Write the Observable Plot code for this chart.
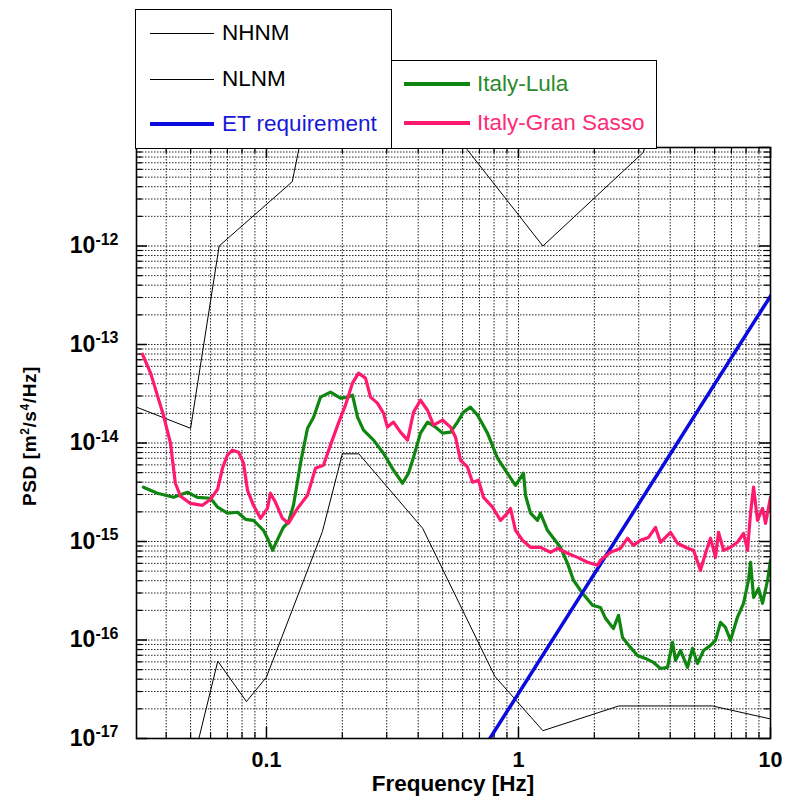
<!DOCTYPE html>
<html>
<head>
<meta charset="utf-8">
<script src="https://cdn.jsdelivr.net/npm/d3@7"></script>
<script src="https://cdn.jsdelivr.net/npm/@observablehq/plot@0.6"></script>
<style>
  html, body { margin: 0; padding: 0; background: #fff; }
  #wrap { position: relative; width: 785px; height: 804px; overflow: hidden; font-family: "Liberation Sans", Arial, Helvetica, sans-serif; }
  #wrap svg { position: absolute; left: 0; top: 0; }
  #wrap svg text { font-family: "Liberation Sans", Arial, Helvetica, sans-serif; font-weight: bold; font-size: 22px; fill: #000; }
  .box { position: absolute; border: 1.5px solid #000; background: #fff; box-sizing: border-box; }
  .ln { position: absolute; }
  .lt { position: absolute; font-size: 22.5px; line-height: 22px; white-space: nowrap; }
  #ylab { position: absolute; left: 30px; top: 436px; transform: translate(-50%, -50%) rotate(-90deg); white-space: nowrap; font-weight: bold; font-size: 19px; letter-spacing: 0.6px; }
  #ylab sup { font-size: 12px; line-height: 0; vertical-align: 0.6em; }
  #xlab { position: absolute; left: 453px; top: 784px; transform: translate(-50%, -50%); white-space: nowrap; font-weight: bold; font-size: 22.5px; line-height: 22px; }
</style>
</head>
<body>
<div id="wrap"></div>
<script>
// ---------- data ----------
const lulaFreq = [0.0325,0.0369,0.0428,0.0486,0.0532,0.0600,0.0640,0.0700,0.0767,0.0826,0.0888,0.0973,0.1018,0.1057,0.1117,0.1167,0.1222,0.1280,0.1365,0.1455,0.1538,0.1638,0.1795,0.1966,0.2096,0.2195,0.2298,0.2427,0.2660,0.2912,0.3191,0.3467,0.3660,0.3833,0.4085,0.4355,0.4688,0.4995,0.5374,0.5728,0.6051,0.6452,0.6875,0.7534,0.8255,0.9040,0.9730,1.047,1.066,1.116,1.190,1.222,1.303,1.377,1.468,1.565,1.653,1.795,1.967,2.115,2.214,2.381,2.494,2.587,2.782,2.965,3.191,3.434,3.660,3.902,4.085,4.199,4.395,4.686,4.902,5.130,5.422,5.780,6.050,6.333,6.630,6.941,7.390,7.815,8.181,8.333,8.567,8.965,9.299,9.735,10.0];
const lulaPsd = [3.56e-15,3.09e-15,2.81e-15,3.16e-15,2.81e-15,2.75e-15,2.23e-15,1.94e-15,1.98e-15,1.68e-15,1.64e-15,1.30e-15,1.03e-15,8.15e-16,1.10e-15,1.39e-15,1.57e-15,2.33e-15,6.24e-15,1.41e-14,1.83e-14,2.92e-14,3.28e-14,2.85e-14,2.92e-14,3.06e-14,1.83e-14,1.35e-14,1.07e-14,7.87e-15,5.30e-15,3.90e-15,4.93e-15,7.18e-15,1.26e-14,1.63e-14,1.45e-14,1.26e-14,1.29e-14,1.63e-14,2.06e-14,2.31e-14,1.92e-14,1.26e-14,7.02e-15,4.93e-15,3.72e-15,4.93e-15,2.95e-15,1.94e-15,1.64e-15,1.94e-15,1.30e-15,1.08e-15,8.73e-16,6.00e-16,4.04e-16,2.98e-16,2.25e-16,2.14e-16,1.66e-16,1.31e-16,1.78e-16,1.06e-16,8.41e-17,6.97e-17,6.50e-17,5.92e-17,5.14e-17,5.27e-17,9.47e-17,6.21e-17,7.83e-17,5.27e-17,8.22e-17,5.78e-17,7.83e-17,8.81e-17,9.91e-17,1.51e-16,1.34e-16,9.91e-17,1.70e-16,2.36e-16,4.04e-16,6.15e-16,2.71e-16,3.34e-16,2.36e-16,4.04e-16,6.44e-16];

const gsFreq = [0.0322,0.0347,0.0390,0.0416,0.0435,0.0456,0.0499,0.0557,0.0600,0.0640,0.0669,0.0700,0.0733,0.0775,0.0811,0.0841,0.0888,0.0947,0.1009,0.1037,0.1086,0.1157,0.1222,0.1328,0.1455,0.1565,0.1683,0.1795,0.1930,0.2058,0.2195,0.2318,0.2472,0.2588,0.2756,0.2912,0.3020,0.3191,0.3403,0.3630,0.3833,0.4085,0.4355,0.4602,0.4995,0.5374,0.5623,0.5888,0.6279,0.6568,0.6935,0.7265,0.7889,0.8487,0.9040,0.9296,0.9730,1.037,1.116,1.222,1.340,1.428,1.565,1.714,1.879,2.057,2.115,2.317,2.541,2.709,2.859,3.049,3.280,3.497,3.660,4.010,4.275,4.686,4.947,5.275,5.522,5.780,6.050,6.218,6.510,6.941,7.390,7.815,8.107,8.333,8.567,8.880,9.299,9.560,10.0];
const gsPsd = [7.98e-14,5.12e-14,1.92e-14,9.95e-15,3.90e-15,2.88e-15,2.44e-15,2.33e-15,2.69e-15,3.39e-15,5.55e-15,7.52e-15,8.45e-15,8.07e-15,6.24e-15,3.31e-15,2.33e-15,1.72e-15,2.17e-15,3.09e-15,2.50e-15,1.72e-15,1.53e-15,2.17e-15,2.95e-15,5.55e-15,5.94e-15,9.51e-15,1.59e-14,2.42e-14,4.06e-14,5.12e-14,4.56e-14,2.92e-14,2.54e-14,2.01e-14,1.45e-14,1.63e-14,1.29e-14,1.07e-14,2.06e-14,2.72e-14,2.15e-14,1.52e-14,1.71e-14,1.45e-14,1.15e-14,6.68e-15,5.68e-15,4.00e-15,4.19e-15,2.81e-15,2.23e-15,1.64e-15,1.94e-15,2.17e-15,1.30e-15,1.03e-15,8.73e-16,8.73e-16,7.77e-16,8.53e-16,7.59e-16,6.90e-16,6.15e-16,5.73e-16,6.44e-16,7.77e-16,8.53e-16,1.08e-15,9.14e-16,1.03e-15,1.10e-15,1.39e-15,9.82e-16,1.24e-15,9.60e-16,8.53e-16,8.15e-16,5.09e-16,7.59e-16,1.08e-15,6.90e-16,1.24e-15,8.15e-16,8.73e-16,9.82e-16,1.21e-15,8.15e-16,1.94e-15,3.56e-15,1.64e-15,2.17e-15,1.53e-15,2.81e-15];

const nhnmFreq = [0.0282,0.05,0.0649,0.1266,0.1587,0.2174,0.2632,1.25,3.125,4.545,10];
const nhnmPsd  = [2.5e-14,1.41e-14,1.0e-12,4.5e-12,7.9e-11,2.2e-10,1.6e-10,1.0e-12,8.9e-12,1.8e-10,7e-10];

const nlnmFreq = [0.0316,0.0457,0.0641,0.0833,0.1,0.1667,0.2,0.2326,0.4167,0.806,1.25,2.5,5.88,10];
const nlnmPsd  = [3.2e-19,1.78e-18,6.1e-17,2.37e-17,4.2e-17,1.26e-15,7.76e-15,7.76e-15,1.36e-15,4.27e-17,1.2e-17,2.14e-17,2.14e-17,1.58e-17];

const etFreq = [0.77, 10];
const etPsd  = [1.0e-17, 3.1e-13];

// axis ticks
const xTickLabels = [0.1, 1, 10];
const xMinorTicks = [0.04,0.05,0.06,0.07,0.08,0.09,0.2,0.3,0.4,0.5,0.6,0.7,0.8,0.9,2,3,4,5,6,7,8,9];
const yTickLabels = [1e-17, 1e-16, 1e-15, 1e-14, 1e-13, 1e-12];
const yMajorTicks = [1e-17, 1e-16, 1e-15, 1e-14, 1e-13, 1e-12, 1e-11];
const yDecades = [1e-17, 1e-16, 1e-15, 1e-14, 1e-13, 1e-12];
const mantissas = [2, 3, 4, 5, 6, 7, 8, 9];
const yMinorTicks = yDecades.flatMap(d => mantissas.map(m => m * d));

// legend entries
const legendLeft = [
  {label: "NHNM", color: "#000", text: "#000", width: 1, y: 33},
  {label: "NLNM", color: "#000", text: "#000", width: 1, y: 79},
  {label: "ET requirement", color: "#0b0be0", text: "#1818d8", width: 3.5, y: 124}
];
const legendRight = [
  {label: "Italy-Lula", color: "#0f860f", text: "#2a8a2a", width: 3.5, y: 84},
  {label: "Italy-Gran Sasso", color: "#ff1a70", text: "#ff2a78", width: 3.5, y: 123}
];

// ---------- layout ----------
const W = 785, H = 804;
const mL = 136, mR = 15, mT = 147, mB = 66;
const FW = W - mL - mR, FH = H - mT - mB;
const gridStyle = {stroke: "#000", strokeWidth: 1, strokeDasharray: "1.5,1.5", strokeOpacity: 0.85};

const chart = Plot.plot({
  width: W, height: H,
  marginLeft: mL, marginRight: mR, marginTop: mT, marginBottom: mB,
  style: {background: "transparent"},
  x: {type: "log", domain: [0.0305, 10], ticks: xTickLabels, tickFormat: d => String(d), tickSize: 0, tickPadding: 13, label: null},
  y: {type: "log", domain: [1e-17, 1e-11], ticks: yTickLabels, tickFormat: d => "10^" + Math.round(Math.log10(d)), tickSize: 0, tickPadding: 18, label: null},
  marks: [
    // dotted grid
    Plot.ruleX(xMinorTicks.concat(xTickLabels), {x: d => d, ...gridStyle}),
    Plot.ruleY(yMinorTicks.concat(yMajorTicks), {y: d => d, ...gridStyle}),
    // inward tick marks on all four sides
    Plot.ruleY(yMajorTicks, {y: d => d, insetRight: FW - 11, stroke: "#000", strokeWidth: 1.5}),
    Plot.ruleY(yMajorTicks, {y: d => d, insetLeft: FW - 11, stroke: "#000", strokeWidth: 1.5}),
    Plot.ruleY(yMinorTicks, {y: d => d, insetRight: FW - 6, stroke: "#000", strokeWidth: 1.2}),
    Plot.ruleY(yMinorTicks, {y: d => d, insetLeft: FW - 6, stroke: "#000", strokeWidth: 1.2}),
    Plot.ruleX(xTickLabels, {x: d => d, insetTop: FH - 11, stroke: "#000", strokeWidth: 1.5}),
    Plot.ruleX(xTickLabels, {x: d => d, insetBottom: FH - 11, stroke: "#000", strokeWidth: 1.5}),
    Plot.ruleX(xMinorTicks, {x: d => d, insetTop: FH - 6, stroke: "#000", strokeWidth: 1.2}),
    Plot.ruleX(xMinorTicks, {x: d => d, insetBottom: FH - 6, stroke: "#000", strokeWidth: 1.2}),
    // curves
    Plot.line(nhnmFreq, {x: nhnmFreq, y: nhnmPsd, stroke: "#000", strokeWidth: 1, clip: true}),
    Plot.line(nlnmFreq, {x: nlnmFreq, y: nlnmPsd, stroke: "#000", strokeWidth: 1, clip: true}),
    Plot.line(lulaFreq, {x: lulaFreq, y: lulaPsd, stroke: "#0f860f", strokeWidth: 3.2, clip: true}),
    Plot.line(etFreq, {x: etFreq, y: etPsd, stroke: "#0b0be0", strokeWidth: 3.5, clip: true}),
    Plot.line(gsFreq, {x: gsFreq, y: gsPsd, stroke: "#ff1a70", strokeWidth: 3.2, clip: true}),
    Plot.frame({stroke: "#000", strokeWidth: 1.6})
  ]
});

const wrap = document.getElementById("wrap");
wrap.appendChild(chart);

// tick label sizes: x labels slightly smaller, y labels with superscript exponents
d3.select(chart).selectAll("text").each(function () {
  const txt = this.textContent;
  const m = /^10\^(-?\d+)$/.exec(txt);
  if (m) {
    const t = d3.select(this);
    t.style("font-size", "23px");
    t.text("10");
    t.append("tspan").attr("dy", "-0.55em").style("font-size", "16px").text(m[1]);
  } else if (txt === "0.1" || txt === "1" || txt === "10") {
    d3.select(this).style("font-size", "21.5px");
  }
});

// ---------- legend ----------
function addBox(l, t, w, h) {
  const b = document.createElement("div");
  b.className = "box";
  Object.assign(b.style, {left: l + "px", top: t + "px", width: w + "px", height: h + "px"});
  wrap.appendChild(b);
}
function addEntry(e, x0, x1, tx) {
  const ln = document.createElement("div");
  ln.className = "ln";
  Object.assign(ln.style, {left: x0 + "px", top: (e.y - e.width / 2) + "px", width: (x1 - x0) + "px", height: e.width + "px", background: e.color});
  wrap.appendChild(ln);
  const tt = document.createElement("div");
  tt.className = "lt";
  tt.textContent = e.label;
  Object.assign(tt.style, {left: tx + "px", top: (e.y - 11) + "px", color: e.text});
  wrap.appendChild(tt);
}
addBox(135, 9, 257, 139.5);
addBox(391, 60, 266, 88.5);
legendLeft.forEach(e => addEntry(e, 150, 214, 222));
legendRight.forEach(e => addEntry(e, 404, 470, 477));

// ---------- axis titles ----------
const yl = document.createElement("div");
yl.id = "ylab";
yl.innerHTML = "PSD [m<sup>2</sup>/s<sup>4</sup>/Hz]";
wrap.appendChild(yl);
const xl = document.createElement("div");
xl.id = "xlab";
xl.textContent = "Frequency [Hz]";
wrap.appendChild(xl);
</script>
</body>
</html>
